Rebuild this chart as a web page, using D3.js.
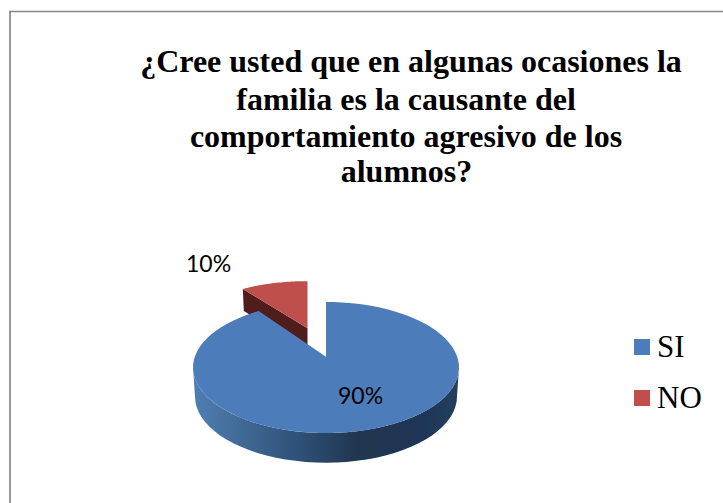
<!DOCTYPE html>
<html><head><meta charset="utf-8">
<script src="https://cdn.jsdelivr.net/npm/d3@7"></script>
<style>html,body{margin:0;padding:0;background:#fff}svg{display:block}</style></head>
<body><svg id="c" width="723" height="503"></svg>
<script>
const categories = ["SI", "NO"];
const values = [90, 10];
const labels = ["90%", "10%"];
const titleLines = ["¿Cree usted que en algunas ocasiones la", "familia es la causante del", "comportamiento agresivo de los", "alumnos?"];

const svg = d3.select("#c");
const defs = svg.append("defs");
const grad = defs.append("linearGradient").attr("id","wall").attr("x1","0").attr("x2","1").attr("y1","0").attr("y2","0");
[[0,"#4f7fb6"],[0.12,"#46719f"],[0.4,"#2f5077"],[0.62,"#203650"],[0.85,"#1e3554"],[1,"#24405f"]].forEach(s=>grad.append("stop").attr("offset",s[0]).attr("stop-color",s[1]));

svg.append("path").attr("d","M10,503V11.5H723").attr("fill","none").attr("stroke","#868686").attr("stroke-width",1.7);

const titleX = [411,406,406,406.5], titleY = [72,110,147,182];
svg.append("g").selectAll("text").data(titleLines).join("text")
  .attr("x",(d,i)=>titleX[i]).attr("y",(d,i)=>titleY[i]).attr("text-anchor","middle")
  .attr("font-family","'Liberation Serif'").attr("font-weight","bold").attr("font-size",32).attr("fill","#000").text(d=>d);

const pieData = d3.pie().sort(null).startAngle(0).endAngle(2*Math.PI)(values);
const cx=326, cy=367.5, rx=133, ry=65.5, k=0.165;
// a ray from the perspective apex to the rim of the top ellipse
function rim(a){
  const dx=Math.sin(a), dy=Math.cos(a);
  const t=-k*dy+Math.sqrt(k*k*dy*dy-k*k+1);
  return [t*dx, k+t*dy];
}
const P=p=>[cx+rx*p[0], cy-ry*p[1]];
const apex=P([0,k]);
const line=d3.line();
function rimPts(a0,a1,n=80){ return d3.range(n+1).map(i=>P(rim(a0+(a1-a0)*i/n))); }

const blue=pieData[0], red=pieData[1];
// exploded slice
const ex={dx:-18.5,dy:-28.5,sx:0.96,sy:0.86};
const E=q=>[apex[0]+ex.dx+(q[0]-apex[0])*ex.sx, apex[1]+ex.dy+(q[1]-apex[1])*ex.sy];
const redRim=rimPts(red.startAngle,red.endAngle,30).map(E);
const redApex=E(apex);
const depthR=22;
svg.append("path").attr("fill","#4f1e1c")
  .attr("d",line([redRim[0],redApex,redRim[redRim.length-1],[redRim[redRim.length-1][0],redRim[redRim.length-1][1]+depthR],[redApex[0],redApex[1]+depthR],[redRim[0][0]+1,redRim[0][1]+depthR]])+"Z");
svg.append("path").attr("fill","#bf4f4c").attr("d",line([redApex,...redRim])+"Z");

// main slice wall
const cyB=396.5, rxB=131, ryB=66.2;
const topHalf=d3.range(0,41).map(i=>{const t=Math.PI*i/40;return [cx-rx*Math.cos(t),cy+ry*Math.sin(t)];});
const botHalf=d3.range(0,41).map(i=>{const t=Math.PI*i/40;return [cx+rxB*Math.cos(t),cyB+ryB*Math.sin(t)];});
svg.append("path").attr("fill","url(#wall)").attr("d",line([...topHalf,...botHalf])+"Z");
svg.append("path").attr("fill","#4c7dba").attr("d",line([apex,...rimPts(blue.startAngle,blue.endAngle)])+"Z");

// data labels
const labelPos=[[338,404],[186,272]];
svg.append("g").selectAll("text").data(labels).join("text")
  .attr("x",(d,i)=>labelPos[i][0]).attr("y",(d,i)=>labelPos[i][1])
  .attr("font-family","Lato").attr("font-size",23).attr("fill","#000").text(d=>d);

// legend
const color=d3.scaleOrdinal().domain(categories).range(["#4c7dba","#bf4f4c"]);
const ly=d3.scalePoint().domain(categories).range([347,398]);
const lg=svg.append("g").selectAll("g").data(categories).join("g").attr("transform",d=>`translate(634,${ly(d)})`);
lg.append("rect").attr("y",-8).attr("width",16).attr("height",16).attr("fill",d=>color(d));
lg.append("text").attr("x",23).attr("y",10).attr("font-family","'Liberation Serif'").attr("font-size",31).attr("fill","#000").text(d=>d);
</script></body></html>
